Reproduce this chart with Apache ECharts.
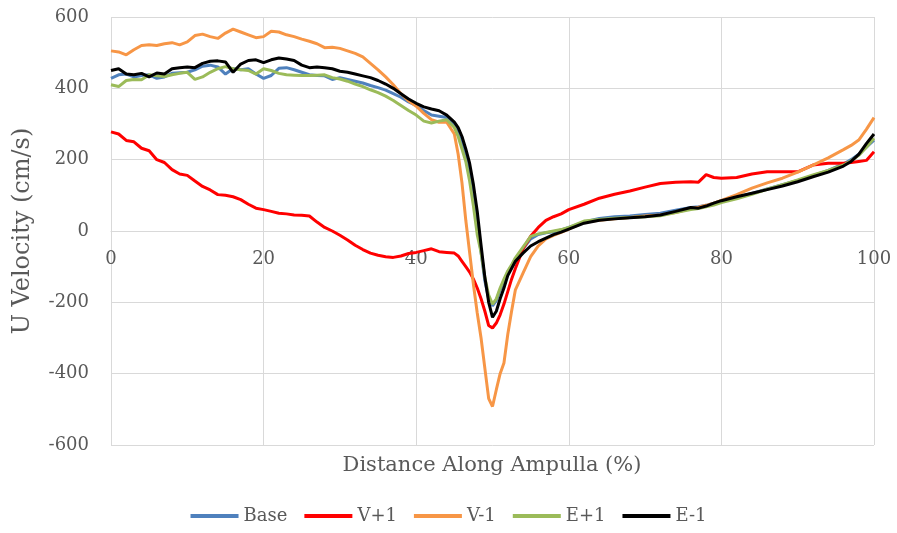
<!DOCTYPE html>
<html>
<head>
<meta charset="UTF-8">
<title>U Velocity</title>
<script src="https://cdn.jsdelivr.net/npm/echarts@6/dist/echarts.min.js"></script>
<style>
  html, body { margin: 0; padding: 0; background: #fff; }
  #main { width: 897px; height: 533px; }
</style>
</head>
<body>
<div id="main"></div>
<script>
// distance along ampulla (%)
var xPos = [0,1,2,3,4,5,6,7,8,9,10,11,12,13,14,15,16,17,18,19,20,21,22,23,24,25,26,27,28,29,30,31,32,33,34,35,36,37,38,39,40,41,42,43,44,45,45.5,46,46.5,47,47.5,48,48.5,49,49.5,50,50.5,51,51.5,52,52.5,53,54,55,56,57,58,59,60,62,64,66,68,70,72,74,76,77,78,79,80,82,84,86,88,90,92,94,96,97,98,99,100];

var base = [428,438,440,432,436,438,428,432,442,444,445,452,462,465,460,440,455,452,455,440,428,436,456,458,452,445,438,436,435,425,430,425,420,415,408,402,395,385,375,362,352,338,325,322,318,300,280,255,215,165,100,20,-60,-140,-190,-210,-195,-165,-140,-115,-98,-78,-50,-22,-10,-5,-2,3,10,25,35,40,42,46,50,58,66,68,72,78,85,95,105,118,130,142,155,170,188,200,215,235,255];

var vPlus1 = [278,272,254,250,232,225,200,192,172,160,156,140,125,115,102,100,96,88,75,64,60,55,50,48,45,44,42,25,10,0,-12,-25,-40,-52,-62,-68,-72,-74,-70,-63,-60,-55,-50,-58,-60,-62,-70,-85,-100,-115,-135,-160,-190,-225,-265,-272,-258,-235,-205,-170,-135,-105,-50,-15,10,30,40,48,60,75,92,103,112,123,133,137,138,137,158,150,148,150,160,166,166,166,185,190,190,192,195,198,222];

var vMinus1 = [505,502,494,508,520,522,520,525,528,522,530,548,552,545,540,555,566,558,550,542,545,560,558,550,545,538,532,525,514,515,512,505,498,488,470,452,432,410,385,365,350,330,312,305,305,272,215,135,30,-60,-150,-230,-300,-385,-470,-492,-445,-400,-370,-290,-225,-165,-118,-72,-42,-22,-12,-4,5,25,30,34,38,42,45,52,63,67,72,78,86,102,120,135,148,165,185,205,228,240,255,285,318];

var ePlus1 = [410,405,422,425,424,438,435,433,438,442,445,425,432,445,455,461,455,452,450,440,455,450,442,438,437,436,436,437,438,430,426,420,412,405,396,388,378,366,352,338,325,308,303,308,312,290,265,230,195,140,70,-10,-60,-130,-180,-205,-190,-160,-135,-112,-95,-75,-45,-15,-8,-4,0,4,10,28,32,36,38,40,43,52,60,63,68,73,80,90,103,117,130,143,157,170,185,197,212,235,260];

var eMinus1 = [450,455,440,438,442,432,443,440,455,458,460,458,470,476,477,474,445,468,478,480,472,480,485,482,478,465,458,460,458,455,448,445,440,435,430,422,412,400,385,370,358,348,342,337,325,305,290,265,230,190,130,55,-40,-130,-200,-242,-225,-190,-160,-125,-105,-85,-62,-42,-30,-20,-10,-3,5,22,30,34,37,40,45,55,66,64,70,78,85,96,106,116,126,138,152,165,182,195,215,245,272];

var seriesNames = ['Base', 'V+1', 'V-1', 'E+1', 'E-1'];
var seriesColors = ['#4F81BD', '#FF0000', '#F79646', '#9BBB59', '#000000'];
var seriesValues = [base, vPlus1, vMinus1, ePlus1, eMinus1];

var xTicks = { min: 0, max: 100, interval: 20 };
var yTicks = { min: -600, max: 600, interval: 200 };

var fontName = 'DejaVu Serif';
var textColor = '#595959';
var gridColor = '#d9d9d9';

var myChart = echarts.init(document.getElementById('main'), null, { renderer: 'canvas' });

var series = [];
for (var i = 0; i < seriesValues.length; i++) {
    var pts = [];
    for (var j = 0; j < xPos.length; j++) {
        pts.push([xPos[j], seriesValues[i][j]]);
    }
    series.push({
        name: seriesNames[i],
        type: 'line',
        data: pts,
        showSymbol: false,
        symbol: 'none',
        lineStyle: { color: seriesColors[i], width: 3 },
        itemStyle: { color: seriesColors[i] },
        animation: false
    });
}

var option = {
    backgroundColor: '#ffffff',
    animation: false,
    grid: { left: 111, right: 23, top: 17, bottom: 88 },
    legend: {
        data: seriesNames,
        bottom: 3,
        left: 'center',
        icon: 'rect',
        itemWidth: 48,
        itemHeight: 4,
        itemGap: 17,
        textStyle: { fontFamily: fontName, fontSize: 18, color: textColor }
    },
    xAxis: {
        type: 'value',
        min: xTicks.min,
        max: xTicks.max,
        interval: xTicks.interval,
        position: 'bottom',
        offset: -214,   // sits on y = 0 like the original
        axisLine: { onZero: false, lineStyle: { color: gridColor } },
        axisTick: { show: false },
        axisLabel: { margin: 19, fontFamily: fontName, fontSize: 18, color: textColor },
        splitLine: { show: true, lineStyle: { color: gridColor, width: 1 } }
    },
    yAxis: {
        type: 'value',
        min: yTicks.min,
        max: yTicks.max,
        interval: yTicks.interval,
        name: 'U Velocity (cm/s)',
        nameLocation: 'middle',
        nameGap: 76,
        nameTextStyle: { fontFamily: fontName, fontSize: 24, color: textColor },
        axisLine: { show: false },
        axisTick: { show: false },
        axisLabel: { margin: 22, fontFamily: fontName, fontSize: 18, color: textColor },
        splitLine: { show: true, lineStyle: { color: gridColor, width: 1 } }
    },
    graphic: [{
        type: 'text',
        x: 492,
        y: 466,
        style: {
            text: 'Distance Along Ampulla (%)',
            align: 'center',
            verticalAlign: 'middle',
            font: '21px "DejaVu Serif"',
            fill: textColor
        }
    }],
    series: series
};
myChart.setOption(option);
</script>
</body>
</html>
